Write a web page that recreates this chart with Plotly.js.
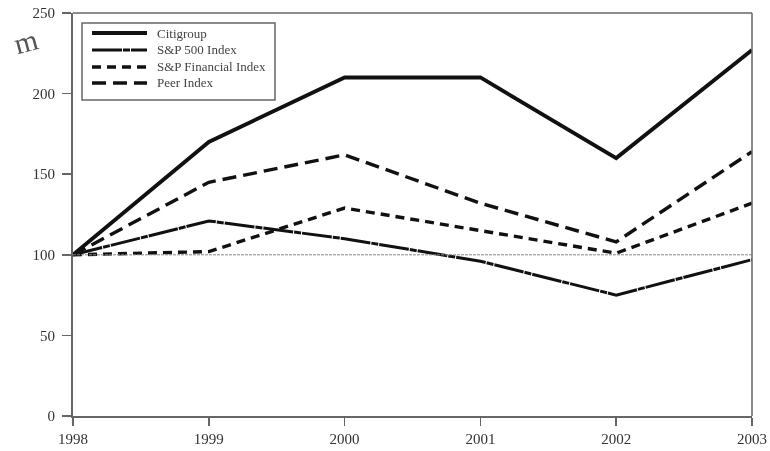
<!DOCTYPE html>
<html>
<head>
<meta charset="utf-8">
<script src="https://cdn.plot.ly/plotly-3.0.1.min.js"></script>
<style>html,body{margin:0;padding:0;background:#fff}#c{width:770px;height:451px;filter:blur(0.6px)}</style>
</head>
<body>
<div id="c"></div>
<script>
const years = ['1998','1999','2000','2001','2002','2003'];
const seriesNames = ['Citigroup','S&P 500 Index','S&P Financial Index','Peer Index'];
const citigroup = [100,170,210,210,160,227];
const sp500 = [100,121,110,96,75,97];
const spFinancial = [100,102,129,115,101,132];
const peer = [100,145,162,132,108,164];
const baseline = [100,100,100,100,100,100];
const yTicks = [0,50,100,150,200,250];

const axisColor = '#666';
const textColor = '#333';
const serif = '"Liberation Serif", serif';
const W = 770, H = 451, L = 73, R = 18, T = 13, B = 35;
const px = v => (v - L) / (W - L - R);
const py = v => 1 - (v - T) / (H - T - B);

const styles = [
  {color:'#111',width:3.8},
  {color:'#111',width:3,dash:'30px,1px,7px,1px'},
  {color:'#111',width:3.4,dash:'9px,6px'},
  {color:'#111',width:3.4,dash:'14px,7px'}
];
const values = [citigroup, sp500, spFinancial, peer];

const traces = values.map((y,i) => ({
  name:seriesNames[i], x:years, y, type:'scatter', mode:'lines', cliponaxis:false, line:styles[i], showlegend:false
}));
traces.push({name:'Base', x:years, y:baseline, type:'scatter', mode:'lines', showlegend:false,
  line:{color:'#888',width:1,dash:'3px,1px'}});

const rowY = [33,50,67,83];
const legendShapes = [{type:'rect',xref:'paper',yref:'paper',x0:px(82),x1:px(275),y0:py(23),y1:py(100),
  line:{color:axisColor,width:1.5},fillcolor:'#fff'}].concat(styles.map((s,i) => ({
  type:'line',xref:'paper',yref:'paper',x0:px(92),x1:px(147),y0:py(rowY[i]),y1:py(rowY[i]),line:s})));
const legendLabels = seriesNames.map((n,i) => ({
  text:n.replace('&','&amp;'),xref:'paper',yref:'paper',x:px(155),y:py(rowY[i]),xanchor:'left',yanchor:'middle',showarrow:false,
  font:{family:serif,size:13,color:'#444'}}));

const layout = {
  width:W, height:H,
  margin:{l:L,r:R,t:T,b:B,pad:0},
  paper_bgcolor:'#fff', plot_bgcolor:'#fff',
  font:{family:serif,size:15,color:textColor},
  showlegend:false,
  xaxis:{type:'category',range:[0,5],showgrid:false,zeroline:false,showline:true,
    linecolor:axisColor,linewidth:2,ticks:'outside',ticklen:8,tickwidth:1.5,tickcolor:axisColor,
    tickfont:{family:serif,size:15,color:textColor}},
  yaxis:{range:[0,250],tickvals:yTicks,showgrid:false,zeroline:false,showline:true,
    linecolor:axisColor,linewidth:2,ticks:'outside',ticklen:9,tickwidth:1.5,tickcolor:axisColor,ticklabelstandoff:4,
    tickfont:{family:serif,size:15,color:textColor}},
  shapes:[
    {type:'line',xref:'paper',yref:'paper',x0:0,x1:1,y0:1,y1:1,line:{color:axisColor,width:1.5}},
    {type:'line',xref:'paper',yref:'paper',x0:1,x1:1,y0:0,y1:1,line:{color:axisColor,width:1.5}}
  ].concat(legendShapes),
  annotations:legendLabels.concat([
    {text:'m',xref:'paper',yref:'paper',x:px(25),y:py(41),xanchor:'center',yanchor:'middle',showarrow:false,
     textangle:-15,font:{family:serif,size:30,color:'#555'}}
  ])
};
Plotly.newPlot('c',traces,layout,{displayModeBar:false,staticPlot:true});
</script>
</body>
</html>
